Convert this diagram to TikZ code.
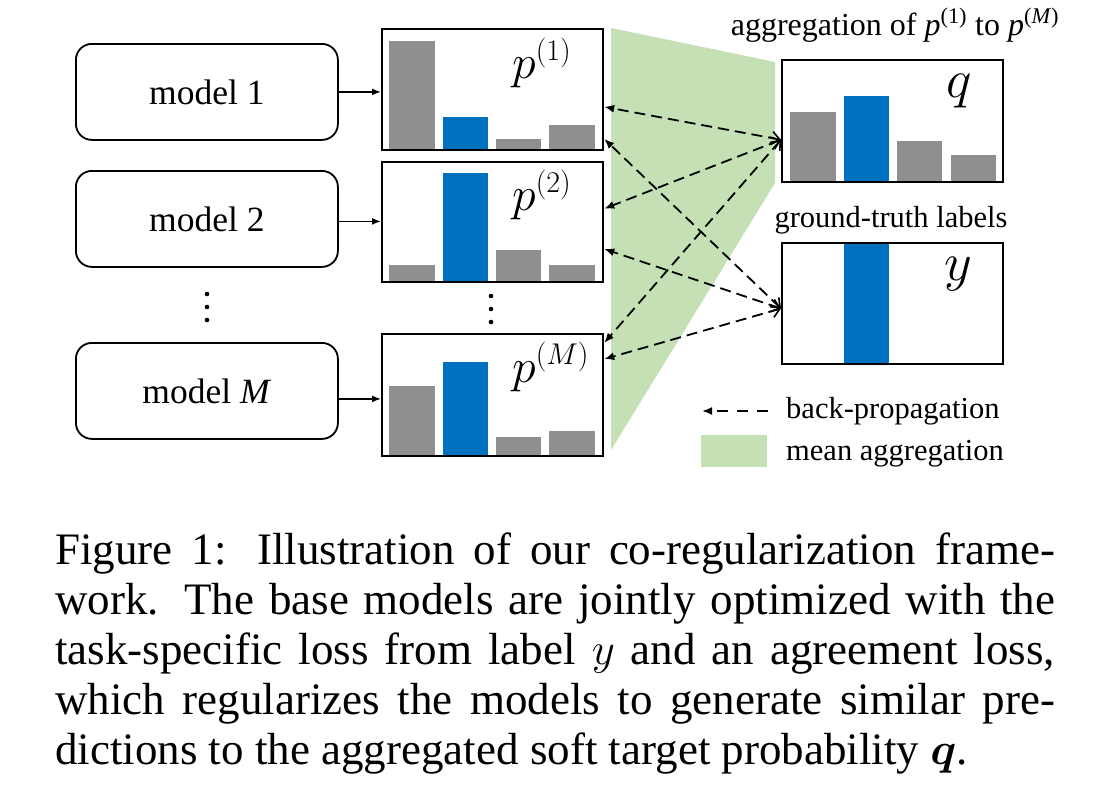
\RequirePackage{fix-cm}
\documentclass[tikz,border=0pt]{standalone}
\usepackage{amsmath}
\usepackage{fontspec}
\setmainfont{Liberation Serif}
\usetikzlibrary{arrows.meta,calc}
\DeclareMathSizes{48}{48}{30}{20}
\definecolor{barblue}{RGB}{0,112,192}
\definecolor{bargray}{RGB}{143,143,143}
\definecolor{aggreen}{RGB}{197,224,180}
\begin{document}
\begin{tikzpicture}[x=1pt,y=-1pt,
  txt/.style={font=\fontsize{30.5}{36}\selectfont, inner sep=0pt},
  modelbox/.style={draw, line width=1.8pt, rounded corners=16pt, minimum width=262pt, minimum height=96pt, anchor=north west, inner sep=0pt, font=\fontsize{35.5}{40}\selectfont},
  probbox/.style={draw, line width=2.2pt, minimum width=221pt, anchor=north west, inner sep=0pt},
  biglabel/.style={anchor=base west, inner sep=0pt},
  feed/.style={line width=1.5pt, -{Latex[length=9pt,width=7pt]}},
  bp/.style={line width=1.8pt, dash pattern=on 11pt off 6pt, {Straight Barb[length=8pt,width=13pt,line width=1.6pt]}-{Latex[length=10pt,width=8pt]}},
  bpleg/.style={line width=1.8pt, dash pattern=on 11pt off 9pt, -{Latex[length=10pt,width=8pt]}},
  capline/.style={anchor=base west, inner sep=0pt, font=\fontsize{45}{50}\selectfont},
  dot/.style={fill=black}
]
\useasboundingbox (0,0) rectangle (1102,806);
\fill[white] (0,0) rectangle (1102,806);

% mean aggregation region
\fill[aggreen] (611,28) -- (775,62) -- (775,183) -- (611,450) -- cycle;

% bars of p(1)
\fill[bargray] (389,41) rectangle (435,149);
\fill[barblue] (443,117) rectangle (488,149);
\fill[bargray] (496,139) rectangle (541,149);
\fill[bargray] (549,125) rectangle (595,149);
% bars of p(2)
\fill[bargray] (389,265) rectangle (435,281);
\fill[barblue] (443,173) rectangle (488,281);
\fill[bargray] (496,250) rectangle (541,281);
\fill[bargray] (549,265) rectangle (595,281);
% bars of p(M)
\fill[bargray] (389,386) rectangle (435,455);
\fill[barblue] (443,362) rectangle (488,455);
\fill[bargray] (496,437) rectangle (541,455);
\fill[bargray] (549,431) rectangle (595,455);
% bars of q
\fill[bargray] (790,112) rectangle (836,181);
\fill[barblue] (844,96) rectangle (889,181);
\fill[bargray] (897,141) rectangle (942,181);
\fill[bargray] (951,155) rectangle (996,181);
% bar of y
\fill[barblue] (844,242) rectangle (889,363);

% model boxes
\node[modelbox] (m1) at (75,43) {model 1};
\node[modelbox] (m2) at (75,170) {model 2};
\node[modelbox] (mM) at (75,342) {model \textit{M}};

% probability boxes
\node[probbox, minimum height=121pt] (p1) at (381,28) {};
\node[probbox, minimum height=120pt] (p2) at (381,161) {};
\node[probbox, minimum height=122pt] (pM) at (381,333) {};
\node[probbox, minimum height=122pt] (q) at (781,59) {};
\node[probbox, minimum height=121pt] (y) at (781,242) {};

% labels inside boxes
\node[biglabel, font=\fontsize{48}{56}\selectfont] (l1) at (512,78) {$p^{(1)}$};
\node[biglabel, font=\fontsize{48}{56}\selectfont] (l2) at (512,210) {$p^{(2)}$};
\node[biglabel, font=\fontsize{48}{56}\selectfont] (lM) at (512,382) {$p^{(M)}$};
\node[biglabel, font=\fontsize{54}{60}\selectfont] (lq) at (946,97) {$q$};
\node[biglabel, font=\fontsize{54}{60}\selectfont] (ly) at (944,280) {$y$};

% titles
\node[txt, anchor=base, font=\fontsize{32}{36}\selectfont] (ttl) at (895,35) {aggregation of \textit{p}\textsuperscript{(1)} to \textit{p}\textsuperscript{(\textit{M})}};
\node[txt, anchor=base] (gt) at (891,227) {ground-truth labels};

% vertical dots
\fill[dot] (207,294) circle (2.3pt);
\fill[dot] (207,307) circle (2.3pt);
\fill[dot] (207,320) circle (2.3pt);
\fill[dot] (491,296) circle (2.3pt);
\fill[dot] (491,309) circle (2.3pt);
\fill[dot] (491,322) circle (2.3pt);

% model -> prediction
\draw[feed] (m1.east) -- (m1.east -| p1.west);
\draw[feed] ([yshift=-2.5pt]m2.east) -- ([yshift=-2.5pt]m2.east -| p2.west);
\draw[feed] ([yshift=-8pt]mM.east) -- ([yshift=-8pt]mM.east -| pM.west);

% back-propagation anchor points
\coordinate (qin) at ($(q.north west)!.65!(q.south west)$);
\coordinate (yin) at ($(y.north west)!.54!(y.south west)$);
\coordinate (p1q) at ($(p1.north east)!.64!(p1.south east)$);
\coordinate (p1y) at ($(p1.north east)!.90!(p1.south east)$);
\coordinate (p2q) at ($(p2.north east)!.39!(p2.south east)$);
\coordinate (p2y) at ($(p2.north east)!.72!(p2.south east)$);
\coordinate (pMq) at ($(pM.north east)!.08!(pM.south east)$);
\coordinate (pMy) at ($(pM.north east)!.21!(pM.south east)$);

\draw[bp] (qin) -- (p1q);
\draw[bp] (qin) -- (p2q);
\draw[bp] (qin) -- (pMq);
\draw[bp] (yin) -- (p1y);
\draw[bp] (yin) -- (p2y);
\draw[bp] (yin) -- (pMy);

% legend
\coordinate (lgA) at (702,411);
\coordinate (lgB) at (768,411);
\draw[bpleg] (lgB) -- (lgA);
\node[txt, anchor=base west] (lg1) at (786,418) {back-propagation};
\fill[aggreen] (701,435) rectangle (767,467);
\node[txt, anchor=base west] (lg2) at (786,460) {mean aggregation};

% caption
\node[capline] (c1) at (55,564) {\makebox[1000pt][s]{Figure 1: Illustration of our co-regularization frame-}};
\node[capline] (c2) at (55,614) {\makebox[1000pt][s]{work. The base models are jointly optimized with the}};
\node[capline] (c3) at (55,664) {\makebox[1000pt][s]{task-specific loss from label $y$ and an agreement loss,}};
\node[capline] (c4) at (55,714) {\makebox[1000pt][s]{which regularizes the models to generate similar pre-}};
\node[capline] (c5) at (55,764) {dictions to the aggregated soft target probability $\boldsymbol{q}$.};
\end{tikzpicture}
\end{document}
